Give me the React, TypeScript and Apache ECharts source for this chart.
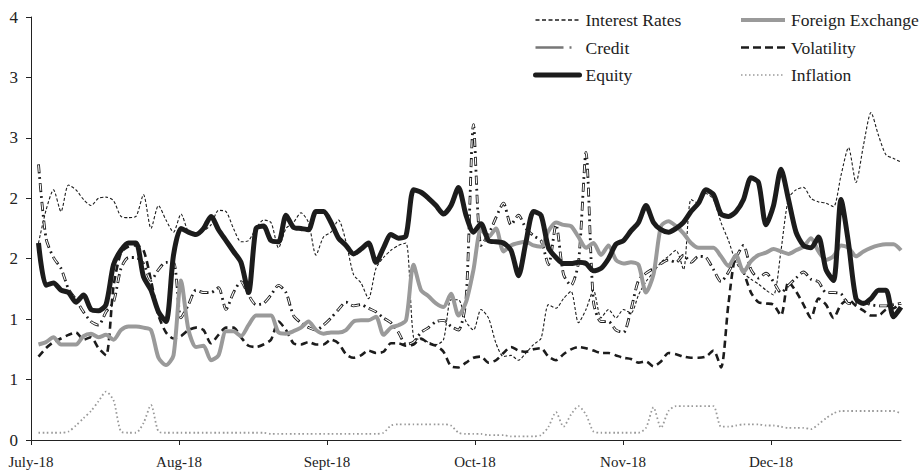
import React, { useEffect, useRef } from "react";
import * as echarts from "echarts";

// ---------- data ----------
const monthLabels = ["July-18", "Aug-18", "Sept-18", "Oct-18", "Nov-18", "Dec-18"];
const monthTickValues = [0, 1, 2, 3, 4, 5];
const yTickLabels = ["0", "1", "1", "2", "2", "3", "3", "4"];
const seriesNames = ["Interest Rates", "Credit", "Equity", "Foreign Exchange", "Volatility", "Inflation"];

// sample points: index 0 = start of July (no observation), then 116 observations
const categories = Array.from({ length: 117 }, (_, i) => `obs-${i}`);

const interestRates = [
  1.63, 1.90, 2.07, 1.89, 2.11, 2.07, 1.99, 1.94, 2.00, 2.01,
  1.98, 1.85, 1.84, 1.85, 2.03, 1.75, 1.94, 1.82, 1.72, 1.87,
  1.72, 1.69, 1.73, 1.78, 1.90, 1.89, 1.75, 1.64, 1.65, 1.75,
  1.82, 1.80, 1.59, 1.75, 1.80, 1.88, 1.80, 1.53, 1.68, 1.72,
  1.82, 1.64, 1.37, 1.30, 1.17, 1.42, 1.51, 1.57, 1.61, 1.63,
  0.85, 0.83, 0.81, 0.79, 0.83, 1.16, 1.16, 0.98, 0.91, 1.08,
  1.01, 0.80, 0.69, 0.70, 0.66, 0.72, 0.79, 0.84, 1.12, 1.09,
  1.17, 1.23, 0.97, 1.08, 1.24, 1.01, 1.08, 1.01, 1.08, 1.05,
  1.20, 1.31, 1.39, 1.47, 1.52, 1.57, 1.41, 1.99, 1.96, 2.04,
  1.99, 1.80, 1.65, 1.47, 1.38, 1.33, 1.29, 1.24, 1.20, 1.57,
  2.00, 2.07, 2.09, 2.00, 1.97, 1.96, 1.93, 2.19, 2.42, 2.13,
  2.44, 2.71, 2.52, 2.36, 2.33, 2.30,
];

const credit = [
  2.28, 1.67, 1.51, 1.42, 1.25, 1.16, 1.06, 0.98, 0.95, 1.06,
  1.14, 1.42, 1.51, 1.51, 1.46, 1.32, 1.41, 1.47, 1.47, 1.01,
  1.12, 1.24, 1.22, 1.22, 1.26, 1.08, 1.22, 1.31, 1.20, 1.12,
  1.13, 1.20, 1.28, 1.22, 1.03, 0.97, 0.93, 0.91, 0.95, 1.01,
  1.08, 1.14, 1.11, 1.12, 1.09, 1.06, 1.01, 0.97, 0.89, 0.79,
  0.81, 0.89, 0.93, 0.98, 0.99, 0.94, 0.91, 1.16, 2.61, 1.61,
  1.70, 1.84, 1.96, 1.78, 1.86, 1.75, 1.69, 1.65, 1.45, 1.78,
  1.37, 1.28, 1.47, 2.38, 1.14, 0.98, 0.98, 0.91, 0.89, 1.08,
  1.32, 1.38, 1.42, 1.46, 1.49, 1.47, 1.53, 1.47, 1.52, 1.51,
  1.41, 1.31, 1.39, 1.51, 1.61, 1.41, 1.34, 1.38, 1.31, 1.22,
  1.28, 1.34, 1.39, 1.33, 1.31, 1.22, 1.22, 1.21, 1.13, 1.13,
  1.14, 1.12, 1.11, 1.11, 1.12, 1.13,
];

const equity = [
  1.63, 1.28, 1.30, 1.24, 1.22, 1.14, 1.20, 1.08, 1.07, 1.12,
  1.45, 1.57, 1.63, 1.63, 1.35, 1.24, 1.06, 0.98, 1.53, 1.75,
  1.72, 1.70, 1.75, 1.85, 1.74, 1.65, 1.56, 1.47, 1.22, 1.75,
  1.77, 1.65, 1.64, 1.86, 1.76, 1.75, 1.74, 1.89, 1.89, 1.80,
  1.67, 1.61, 1.54, 1.58, 1.63, 1.47, 1.59, 1.70, 1.67, 1.69,
  2.07, 2.05, 2.00, 1.94, 1.87, 1.94, 2.09, 1.86, 1.72, 1.79,
  1.65, 1.64, 1.63, 1.57, 1.36, 1.64, 1.89, 1.86, 1.59, 1.51,
  1.46, 1.46, 1.47, 1.46, 1.40, 1.42, 1.50, 1.62, 1.65, 1.73,
  1.80, 1.94, 1.80, 1.74, 1.72, 1.75, 1.80, 1.89, 1.96, 2.07,
  2.03, 1.87, 1.85, 1.89, 1.99, 2.17, 2.13, 1.78, 1.94, 2.24,
  1.99, 1.72, 1.61, 1.59, 1.68, 1.41, 1.32, 1.99, 1.63, 1.17,
  1.13, 1.17, 1.24, 1.24, 1.02, 1.10,
];

const foreignExchange = [
  0.79, 0.81, 0.85, 0.79, 0.79, 0.79, 0.86, 0.88, 0.85, 0.87,
  0.83, 0.91, 0.94, 0.94, 0.93, 0.91, 0.68, 0.62, 0.70, 1.32,
  0.91, 0.77, 0.78, 0.66, 0.70, 0.90, 0.90, 0.86, 0.95, 1.03,
  1.03, 1.03, 0.89, 0.88, 0.90, 0.93, 0.98, 0.91, 0.88, 0.89,
  0.89, 0.91, 0.98, 0.99, 0.99, 1.02, 0.87, 0.93, 0.95, 0.99,
  1.45, 1.24, 1.19, 1.13, 1.10, 1.21, 1.03, 1.14, 1.41, 1.74,
  1.68, 1.75, 1.56, 1.61, 1.63, 1.64, 1.61, 1.60, 1.73, 1.80,
  1.78, 1.77, 1.68, 1.59, 1.63, 1.53, 1.61, 1.49, 1.46, 1.47,
  1.45, 1.22, 1.37, 1.77, 1.81, 1.77, 1.71, 1.63, 1.59, 1.59,
  1.59, 1.52, 1.44, 1.53, 1.39, 1.48, 1.53, 1.55, 1.58, 1.56,
  1.54, 1.57, 1.60, 1.67, 1.56, 1.49, 1.52, 1.61, 1.59, 1.52,
  1.56, 1.59, 1.61, 1.62, 1.62, 1.57,
];

const volatility = [
  0.69, 0.76, 0.81, 0.84, 0.87, 0.89, 0.83, 0.85, 0.76, 0.70,
  1.27, 1.55, 1.60, 1.61, 1.57, 1.32, 1.03, 0.89, 0.84, 0.86,
  0.91, 0.93, 0.91, 0.80, 0.87, 0.93, 0.93, 0.85, 0.78, 0.77,
  0.79, 0.83, 0.98, 0.91, 0.80, 0.79, 0.81, 0.79, 0.79, 0.83,
  0.80, 0.71, 0.68, 0.70, 0.74, 0.72, 0.73, 0.80, 0.80, 0.78,
  0.79, 0.84, 0.80, 0.78, 0.73, 0.61, 0.60, 0.64, 0.68, 0.69,
  0.64, 0.66, 0.72, 0.77, 0.74, 0.73, 0.75, 0.76, 0.69, 0.66,
  0.71, 0.75, 0.77, 0.76, 0.74, 0.72, 0.72, 0.70, 0.68, 0.67,
  0.64, 0.65, 0.61, 0.65, 0.72, 0.71, 0.69, 0.68, 0.68, 0.69,
  0.74, 0.60, 1.13, 1.51, 1.39, 1.22, 1.14, 1.13, 1.12, 1.03,
  1.31, 1.23, 1.12, 1.01, 1.17, 1.12, 1.01, 1.12, 1.16, 1.11,
  1.07, 1.03, 1.03, 1.08, 1.09, 1.13,
];

const inflation = [
  0.06, 0.06, 0.06, 0.06, 0.07, 0.12, 0.18, 0.24, 0.32, 0.40,
  0.33, 0.07, 0.06, 0.06, 0.14, 0.29, 0.07, 0.06, 0.06, 0.06,
  0.06, 0.06, 0.06, 0.06, 0.06, 0.06, 0.06, 0.06, 0.06, 0.06,
  0.06, 0.05, 0.05, 0.05, 0.05, 0.05, 0.05, 0.05, 0.05, 0.05,
  0.05, 0.05, 0.05, 0.05, 0.05, 0.05, 0.06, 0.12, 0.13, 0.13,
  0.13, 0.13, 0.13, 0.13, 0.13, 0.12, 0.06, 0.05, 0.05, 0.05,
  0.04, 0.04, 0.04, 0.03, 0.03, 0.03, 0.03, 0.04, 0.11, 0.23,
  0.11, 0.21, 0.28, 0.21, 0.07, 0.06, 0.06, 0.06, 0.06, 0.06,
  0.06, 0.10, 0.27, 0.10, 0.24, 0.28, 0.28, 0.28, 0.28, 0.28,
  0.28, 0.11, 0.11, 0.12, 0.13, 0.13, 0.13, 0.12, 0.12, 0.11,
  0.10, 0.10, 0.10, 0.09, 0.13, 0.18, 0.22, 0.24, 0.24, 0.24,
  0.24, 0.24, 0.24, 0.24, 0.24, 0.22,
];

// ---------- styling ----------
const FONT = '"Liberation Serif", "Times New Roman", serif';
const INK = "#1c1c1c";
const GREY = "#9a9a9a";
const GRID_LEFT = 31;
const GRID_RIGHT = 20;
const STEP_PX = 7.5; // px per observation
const MONTH_PX = 148; // px per month
const MONTH_SPAN = ((categories.length - 1) * STEP_PX) / MONTH_PX;

export default function App() {
  const ref = useRef<HTMLDivElement>(null);

  useEffect(() => {
    if (!ref.current) return;
    const chart = echarts.init(ref.current, null, { renderer: "svg" });
    const withStart = (a: number[]) => [null, ...a];

    const mk = (name: string, data: number[], lineStyle: any, extra: any = {}) => ({
      name,
      type: "line",
      data: withStart(data),
      symbol: "none",
      smooth: 0.25,
      xAxisIndex: 0,
      yAxisIndex: 0,
      lineStyle: { cap: "butt", join: "round", ...lineStyle },
      itemStyle: { color: lineStyle.color },
      emphasis: { disabled: true },
      silent: true,
      ...extra,
    });

    const legendText = { fontFamily: FONT, fontSize: 17.5, color: "#222", padding: [0, 0, 0, 1], lineHeight: 17 };
    const hideSymbol = { opacity: 0, borderWidth: 0 };

    chart.setOption({
      animation: false,
      backgroundColor: "#fff",
      grid: {
        left: GRID_LEFT,
        right: GRID_RIGHT,
        top: 17,
        bottom: 31,
        containLabel: false,
        outerBoundsMode: "none",
      },
      legend: [
        {
          orient: "vertical",
          left: 528,
          top: 6,
          itemWidth: 44,
          itemHeight: 14,
          itemGap: 9.5,
          textStyle: legendText,
          data: [
            { name: seriesNames[0], itemStyle: hideSymbol, lineStyle: { width: 1.6, type: [4, 2.5], color: INK } },
            { name: seriesNames[1], itemStyle: hideSymbol, lineStyle: { width: 2.4, type: [28, 6, 2, 10], color: "#777" } },
            { name: seriesNames[2], itemStyle: hideSymbol, lineStyle: { width: 5, color: INK, cap: "round" } },
          ],
        },
        {
          orient: "vertical",
          left: 734,
          top: 6,
          itemWidth: 44,
          itemHeight: 14,
          itemGap: 9.5,
          textStyle: legendText,
          data: [
            { name: seriesNames[3], itemStyle: hideSymbol, lineStyle: { width: 4, color: GREY } },
            { name: seriesNames[4], itemStyle: hideSymbol, lineStyle: { width: 2.6, type: [8, 4], color: INK } },
            { name: seriesNames[5], itemStyle: hideSymbol, lineStyle: { width: 1.6, type: [1.5, 2.5], color: GREY } },
          ],
        },
      ],
      xAxis: [
        {
          type: "category",
          data: categories,
          boundaryGap: false,
          axisLine: { show: true, lineStyle: { color: "#222", width: 1 } },
          axisTick: { show: false },
          axisLabel: { show: false },
          splitLine: { show: false },
        },
        {
          type: "value",
          min: 0,
          max: MONTH_SPAN,
          position: "bottom",
          axisLine: { show: false },
          axisTick: {
            show: true,
            length: 5,
            customValues: monthTickValues,
            lineStyle: { color: "#222" },
          },
          axisLabel: {
            customValues: monthTickValues,
            formatter: (v: number) => monthLabels[Math.round(v)] ?? "",
            fontFamily: FONT,
            fontSize: 15,
            color: "#222",
            margin: 14,
          },
          splitLine: { show: false },
        },
      ],
      yAxis: {
        type: "value",
        min: 0,
        max: 3.5,
        interval: 0.5,
        axisLine: { show: true, lineStyle: { color: "#222", width: 1 } },
        axisTick: { show: true, length: 5, lineStyle: { color: "#222" } },
        splitLine: { show: false },
        axisLabel: {
          formatter: (v: number) => yTickLabels[Math.round(v / 0.5)] ?? "",
          fontFamily: FONT,
          fontSize: 17,
          color: "#222",
          margin: 13,
        },
      },
      series: [
        mk(seriesNames[5], inflation, { color: GREY, width: 1.8, type: [1.6, 2.6] }),
        mk(seriesNames[0], interestRates, { color: INK, width: 1.1, type: [3, 2] }),
        mk(seriesNames[4], volatility, { color: INK, width: 2.6, type: [7, 4.5] }),
        mk(seriesNames[1], credit, { color: INK, width: 2.8, type: [9, 4, 1.8, 4] }),
        mk("Credit-inner", credit, { color: "#fff", width: 1.1, type: [7, 11.8], dashOffset: 17.8 }),
        mk(seriesNames[3], foreignExchange, { color: GREY, width: 4 }),
        mk(seriesNames[2], equity, { color: INK, width: 5 }),
      ],
    });

    return () => chart.dispose();
  }, []);

  return (
    <div
      ref={ref}
      style={{ position: "fixed", left: 0, top: 0, width: 921, height: 471, background: "#fff" }}
    />
  );
}
